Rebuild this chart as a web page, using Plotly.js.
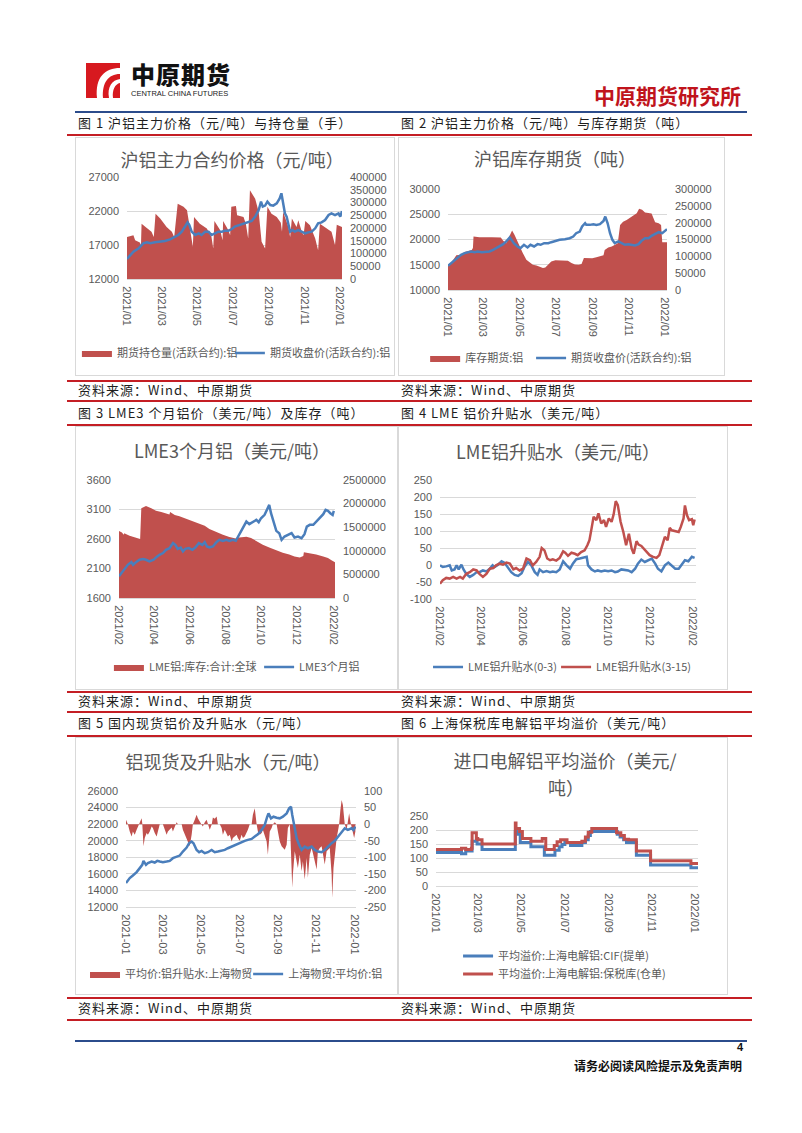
<!DOCTYPE html>
<html><head><meta charset="utf-8">
<script src="https://cdn.plot.ly/plotly-3.0.1.min.js"></script>
<style>
body{margin:0;background:#fff;}
#page{position:relative;width:802px;height:1133px;overflow:hidden;background:#fff;font-family:"Noto Sans CJK SC",sans-serif;}
.red{position:absolute;left:67px;width:685px;height:2px;background:#C41E24;}
.blue{position:absolute;left:75px;width:672px;height:2px;background:#2B4C8C;}
.cap{position:absolute;font-size:13px;letter-spacing:1px;color:#1e1e1e;line-height:13px;white-space:nowrap;}
.box{position:absolute;border:1px solid #D9D9D9;box-sizing:border-box;}
.chart{position:absolute;}
</style></head>
<body><div id="page">
<svg style="position:absolute;left:86px;top:63px" width="34" height="35" viewBox="0 0 34 35">
<rect width="34" height="35" fill="#D7191F"/>
<path d="M34 5 C19 5 9 14 11 35 L17 35 C16 20 22 11 34 11 Z" fill="#fff"/>
<path d="M34 16 C26 17 21 24 23 35 L27 35 C26 27 29 21 34 20 Z" fill="#fff"/>
<path d="M2 4 L8 4 L8 30 L2 30 Z" fill="#D7191F"/>
</svg>
<div style="position:absolute;left:131px;top:63px;font-size:24px;font-weight:900;letter-spacing:1px;line-height:22px;height:22px;color:#111;">中原期货</div>
<div style="position:absolute;left:131px;top:90px;font-family:'Liberation Sans',Arial,sans-serif;font-size:7.5px;line-height:8px;color:#222;letter-spacing:0;">CENTRAL CHINA FUTURES</div>
<div style="position:absolute;right:61px;top:83px;font-size:21px;font-weight:700;line-height:24px;color:#C0141C;">中原期货研究所</div>
<div class="blue" style="top:111px;"></div>
<div class="cap" style="left:78px;top:116px;">图 1 沪铝主力价格（元/吨）与持仓量（手）</div>
<div class="cap" style="left:401px;top:116px;">图 2 沪铝主力价格（元/吨）与库存期货（吨）</div>
<div class="red" style="top:134px;"></div>

<div class="box" style="left:75px;top:137px;width:320px;height:239px;"></div>
<div class="box" style="left:398px;top:137px;width:327px;height:239px;"></div>
<div id="c1" class="chart" style="left:75px;top:137px;"></div>
<div id="c2" class="chart" style="left:398px;top:137px;"></div>

<div class="red" style="top:380px;"></div>
<div class="cap" style="left:78px;top:383px;">资料来源：Wind、中原期货</div>
<div class="cap" style="left:401px;top:383px;">资料来源：Wind、中原期货</div>
<div class="red" style="top:400px;"></div>
<div class="cap" style="left:78px;top:406px;">图 3 LME3 个月铝价（美元/吨）及库存（吨）</div>
<div class="cap" style="left:401px;top:406px;">图 4 LME 铝价升贴水（美元/吨）</div>
<div class="red" style="top:424px;"></div>

<div class="box" style="left:75px;top:426px;width:323px;height:264px;"></div>
<div class="box" style="left:398px;top:426px;width:330px;height:264px;"></div>
<div id="c3" class="chart" style="left:75px;top:426px;"></div>
<div id="c4" class="chart" style="left:398px;top:426px;"></div>

<div class="red" style="top:691px;"></div>
<div class="cap" style="left:78px;top:694px;">资料来源：Wind、中原期货</div>
<div class="cap" style="left:401px;top:694px;">资料来源：Wind、中原期货</div>
<div class="red" style="top:711px;"></div>
<div class="cap" style="left:78px;top:716px;">图 5 国内现货铝价及升贴水（元/吨）</div>
<div class="cap" style="left:401px;top:716px;">图 6 上海保税库电解铝平均溢价（美元/吨）</div>
<div class="red" style="top:735px;"></div>

<div class="box" style="left:75px;top:737px;width:323px;height:258px;"></div>
<div class="box" style="left:398px;top:737px;width:330px;height:258px;"></div>
<div id="c5" class="chart" style="left:75px;top:737px;"></div>
<div id="c6" class="chart" style="left:398px;top:737px;"></div>

<div class="red" style="top:997px;"></div>
<div class="cap" style="left:78px;top:1001px;">资料来源：Wind、中原期货</div>
<div class="cap" style="left:401px;top:1001px;">资料来源：Wind、中原期货</div>
<div class="red" style="top:1019px;"></div>
<div class="blue" style="top:1040px;"></div>
<div style="position:absolute;right:59px;top:1041px;font-family:'Liberation Sans',Arial,sans-serif;font-size:11px;font-weight:700;line-height:13px;color:#111;">4</div>
<div style="position:absolute;right:60px;top:1059px;font-size:12px;font-weight:700;line-height:14px;color:#111;">请务必阅读风险提示及免责声明</div>
</div>
<script>
// ---------- Chart 1: 沪铝主力合约价格 ----------
const c1OiDates = ['2021-01-01','2021-01-12','2021-01-15','2021-01-23','2021-01-25','2021-01-26','2021-02-04','2021-02-12','2021-02-16','2021-02-19','2021-02-27','2021-03-10','2021-03-19','2021-03-23','2021-03-29','2021-04-08','2021-04-14','2021-04-18','2021-04-24','2021-04-26','2021-05-06','2021-05-18','2021-05-26','2021-05-29','2021-05-31','2021-06-10','2021-06-14','2021-06-15','2021-06-24','2021-06-27','2021-06-29','2021-07-07','2021-07-09','2021-07-20','2021-07-24','2021-07-28','2021-07-31','2021-08-09','2021-08-15','2021-08-20','2021-08-26','2021-08-30','2021-09-06','2021-09-15','2021-09-22','2021-09-24','2021-09-26','2021-10-01','2021-10-05','2021-10-08','2021-10-11','2021-10-19','2021-10-22','2021-10-28','2021-10-31','2021-11-03','2021-11-11','2021-11-20','2021-11-25','2021-11-28','2021-12-10','2021-12-18','2021-12-24','2021-12-27','2022-01-05'];
const c1Oi = [165000,172000,152000,143000,133000,217000,200000,185000,165000,256000,237000,204000,185000,165000,295000,283000,270000,211000,126000,243000,217000,198000,165000,120000,227000,191000,152000,227000,191000,172000,283000,286000,250000,243000,217000,159000,348000,315000,263000,146000,120000,283000,256000,243000,221000,185000,263000,230000,204000,165000,237000,204000,230000,185000,172000,227000,211000,159000,113000,217000,198000,185000,133000,213000,204000];
const c1PxDates = ['2021-01-01','2021-01-05','2021-01-12','2021-01-21','2021-01-29','2021-02-04','2021-02-10','2021-02-18','2021-02-27','2021-03-07','2021-03-16','2021-03-25','2021-03-30','2021-04-05','2021-04-11','2021-04-15','2021-04-18','2021-04-22','2021-04-28','2021-05-04','2021-05-09','2021-05-15','2021-05-21','2021-05-26','2021-06-01','2021-06-07','2021-06-13','2021-06-18','2021-06-24','2021-06-30','2021-07-05','2021-07-14','2021-07-23','2021-07-28','2021-08-03','2021-08-09','2021-08-15','2021-08-19','2021-08-22','2021-08-26','2021-08-30','2021-09-04','2021-09-09','2021-09-15','2021-09-20','2021-09-23','2021-09-25','2021-09-29','2021-10-02','2021-10-05','2021-10-08','2021-10-12','2021-10-16','2021-10-22','2021-10-28','2021-11-03','2021-11-08','2021-11-14','2021-11-20','2021-11-25','2021-12-01','2021-12-07','2021-12-13','2021-12-18','2021-12-24','2021-12-30','2022-01-02','2022-01-05'];
const c1Px = [14940,15280,16020,16510,17250,17390,17250,17390,17490,17590,17830,18230,18470,18960,19840,20330,19940,18960,18470,18720,18470,18960,18960,18470,18720,18960,18960,19110,19110,19350,19700,19940,20190,20330,20530,21170,22150,23370,22640,22790,23370,22880,22790,23130,23860,24600,23370,21660,21170,20190,18960,19200,18960,19200,18960,18720,18860,18960,19450,20190,20330,20680,21410,21660,21410,21660,21170,22000];
const c1XTicks = ['2021-01-01','2021-03-01','2021-05-01','2021-07-01','2021-09-01','2021-11-01','2022-01-01'];
const c1XLabels = ['2021/01','2021/03','2021/05','2021/07','2021/09','2021/11','2022/01'];
const c1LeftTicks = [12000,17000,22000,27000];
const c1RightTicks = [0,50000,100000,150000,200000,250000,300000,350000,400000];

// ---------- Chart 2: 沪铝库存期货 ----------
const c2InvDates = ['2021-01-01','2021-01-06','2021-01-12','2021-01-15','2021-01-23','2021-01-29','2021-02-04','2021-02-10','2021-02-12','2021-02-13','2021-02-23','2021-03-06','2021-03-16','2021-03-31','2021-04-04','2021-04-09','2021-04-15','2021-04-19','2021-04-23','2021-04-28','2021-05-02','2021-05-07','2021-05-13','2021-05-19','2021-05-24','2021-05-30','2021-06-04','2021-06-10','2021-06-14','2021-06-19','2021-06-24','2021-07-01','2021-07-08','2021-07-17','2021-07-22','2021-07-28','2021-08-03','2021-08-09','2021-08-14','2021-08-18','2021-08-25','2021-09-01','2021-09-08','2021-09-14','2021-09-20','2021-09-22','2021-09-28','2021-10-04','2021-10-09','2021-10-14','2021-10-18','2021-10-23','2021-10-29','2021-11-04','2021-11-09','2021-11-15','2021-11-19','2021-11-24','2021-11-29','2021-12-05','2021-12-10','2021-12-16','2021-12-22','2021-12-26','2021-12-28','2022-01-05'];
const c2Inv = [75000,80000,95000,103000,105000,113000,116000,119000,125000,159000,157000,156000,157000,156000,146000,139000,164000,177000,164000,144000,129000,110000,90000,82000,75000,73000,70000,65000,67000,75000,85000,88000,88000,89000,87000,80000,76000,75000,77000,95000,95000,94000,97000,100000,103000,119000,126000,129000,134000,139000,193000,203000,208000,215000,223000,228000,241000,238000,230000,228000,227000,201000,198000,193000,142000,142000];
const c2PxDates = ['2021-01-01','2021-01-06','2021-01-12','2021-01-18','2021-01-23','2021-01-29','2021-02-04','2021-02-09','2021-02-15','2021-02-20','2021-02-27','2021-03-06','2021-03-12','2021-03-18','2021-03-23','2021-03-29','2021-04-04','2021-04-09','2021-04-15','2021-04-18','2021-04-22','2021-04-28','2021-05-03','2021-05-09','2021-05-15','2021-05-20','2021-05-26','2021-06-01','2021-06-06','2021-06-12','2021-06-19','2021-06-24','2021-07-01','2021-07-08','2021-07-17','2021-07-25','2021-07-31','2021-08-05','2021-08-11','2021-08-15','2021-08-20','2021-08-22','2021-08-28','2021-09-03','2021-09-08','2021-09-14','2021-09-20','2021-09-23','2021-09-27','2021-10-01','2021-10-05','2021-10-09','2021-10-15','2021-10-21','2021-10-26','2021-11-01','2021-11-06','2021-11-12','2021-11-18','2021-11-23','2021-11-29','2021-12-05','2021-12-10','2021-12-16','2021-12-22','2021-12-28','2022-01-01','2022-01-05'];
const c2Px = [14800,15330,15990,16640,16970,17300,17500,17630,17500,17630,17500,17630,17630,17960,18290,18620,19080,19610,20400,19930,19280,18620,18290,18950,18420,18950,18620,19080,18950,19280,19280,19470,19740,19930,20070,20260,20590,21250,21580,22570,23220,22900,22900,23030,22900,23030,23680,24540,23220,21250,19930,19280,19610,19280,18950,19080,18950,18820,19080,19740,20260,20260,20720,21050,21450,21250,21580,22040];
const c2LeftTicks = [10000,15000,20000,25000,30000];
const c2RightTicks = [0,50000,100000,150000,200000,250000,300000];

// ---------- Chart 3: LME3个月铝 ----------
const c3InvDates = ['2021-02-01','2021-02-06','2021-02-09','2021-02-10','2021-02-19','2021-03-02','2021-03-09','2021-03-11','2021-03-19','2021-03-28','2021-04-05','2021-04-14','2021-04-22','2021-04-28','2021-04-29','2021-05-07','2021-05-15','2021-05-24','2021-06-01','2021-06-10','2021-06-18','2021-06-27','2021-07-05','2021-07-17','2021-07-28','2021-08-08','2021-08-19','2021-08-25','2021-09-06','2021-09-14','2021-09-23','2021-10-04','2021-10-15','2021-10-27','2021-11-07','2021-11-18','2021-11-27','2021-12-06','2021-12-12','2021-12-13','2021-12-23','2022-01-03','2022-01-15','2022-01-23','2022-01-29','2022-02-04'];
const c3Inv = [1420000,1390000,1340000,1370000,1320000,1280000,1250000,1900000,1950000,1900000,1850000,1820000,1790000,1770000,1820000,1760000,1730000,1690000,1650000,1610000,1570000,1530000,1460000,1390000,1340000,1290000,1260000,1280000,1300000,1270000,1200000,1130000,1070000,1010000,960000,920000,880000,860000,890000,970000,950000,920000,880000,850000,800000,760000];
const c3PxDates = ['2021-02-01','2021-02-05','2021-02-10','2021-02-16','2021-02-22','2021-02-25','2021-03-02','2021-03-08','2021-03-14','2021-03-19','2021-03-25','2021-04-01','2021-04-05','2021-04-11','2021-04-17','2021-04-22','2021-04-28','2021-05-04','2021-05-08','2021-05-12','2021-05-17','2021-05-21','2021-05-25','2021-05-31','2021-06-06','2021-06-11','2021-06-17','2021-06-23','2021-06-27','2021-07-01','2021-07-05','2021-07-11','2021-07-17','2021-07-22','2021-07-28','2021-08-03','2021-08-08','2021-08-14','2021-08-19','2021-08-25','2021-08-31','2021-09-06','2021-09-11','2021-09-17','2021-09-23','2021-09-27','2021-10-01','2021-10-07','2021-10-13','2021-10-15','2021-10-18','2021-10-22','2021-10-27','2021-11-01','2021-11-05','2021-11-10','2021-11-16','2021-11-22','2021-11-27','2021-12-03','2021-12-09','2021-12-14','2021-12-18','2021-12-23','2021-12-29','2022-01-03','2022-01-09','2022-01-15','2022-01-19','2022-01-23','2022-01-27','2022-01-31','2022-02-02'];
const c3Px = [1970,2023,2096,2163,2208,2163,2208,2248,2259,2248,2220,2248,2287,2332,2361,2417,2445,2530,2501,2434,2456,2389,2434,2445,2417,2456,2530,2501,2546,2473,2456,2473,2546,2586,2569,2586,2569,2586,2569,2670,2783,2896,2851,2885,2924,2885,2952,3009,3149,3178,3037,2885,2738,2699,2586,2642,2670,2699,2625,2642,2614,2682,2811,2840,2840,2896,2952,3020,3093,3076,3037,3009,3076];
const c3XTicks = ['2021-02-01','2021-04-01','2021-06-01','2021-08-01','2021-10-01','2021-12-01','2022-02-01'];
const c3XLabels = ['2021/02','2021/04','2021/06','2021/08','2021/10','2021/12','2022/02'];
const c3LeftTicks = [1600,2100,2600,3100,3600];
const c3RightTicks = [0,500000,1000000,1500000,2000000,2500000];

// ---------- Chart 4: LME铝升贴水 ----------
const c4D03Dates = ['2021-02-01','2021-02-05','2021-02-10','2021-02-15','2021-02-18','2021-02-22','2021-02-25','2021-02-28','2021-03-04','2021-03-07','2021-03-11','2021-03-16','2021-03-21','2021-03-26','2021-03-30','2021-04-04','2021-04-09','2021-04-14','2021-04-18','2021-04-21','2021-04-26','2021-05-01','2021-05-05','2021-05-10','2021-05-15','2021-05-20','2021-05-25','2021-05-30','2021-06-03','2021-06-08','2021-06-13','2021-06-18','2021-06-22','2021-06-25','2021-06-30','2021-07-05','2021-07-10','2021-07-14','2021-07-19','2021-07-24','2021-07-29','2021-08-03','2021-08-08','2021-08-12','2021-08-17','2021-08-22','2021-08-27','2021-09-01','2021-09-03','2021-09-08','2021-09-13','2021-09-17','2021-09-22','2021-09-27','2021-10-02','2021-10-07','2021-10-12','2021-10-16','2021-10-21','2021-10-26','2021-10-31','2021-11-05','2021-11-10','2021-11-14','2021-11-19','2021-11-24','2021-11-29','2021-12-04','2021-12-09','2021-12-13','2021-12-18','2021-12-23','2021-12-28','2022-01-02','2022-01-07','2022-01-12','2022-01-16','2022-01-21','2022-01-26','2022-01-31','2022-02-04'];
const c4D03 = [-1,-6,-4,-1,-16,-13,-1,-13,1,-13,-26,-35,-29,-21,-21,-16,-19,-11,-1,-6,1,11,7,-6,-21,-29,-32,-24,-6,9,-1,-21,-29,-13,-21,-18,-21,-19,-21,-13,11,-1,-11,4,17,19,21,24,-1,-13,-19,-16,-19,-16,-18,-16,-21,-19,-13,-14,-16,-21,-11,4,16,9,14,19,4,-11,-19,-1,7,-1,-11,-11,1,14,11,24,21];
const c4D315Dates = ['2021-02-01','2021-02-05','2021-02-10','2021-02-15','2021-02-20','2021-02-25','2021-03-02','2021-03-06','2021-03-11','2021-03-16','2021-03-21','2021-03-26','2021-03-30','2021-04-04','2021-04-09','2021-04-14','2021-04-19','2021-04-23','2021-04-28','2021-05-03','2021-05-08','2021-05-13','2021-05-18','2021-05-22','2021-05-27','2021-06-01','2021-06-06','2021-06-11','2021-06-15','2021-06-20','2021-06-25','2021-06-28','2021-07-02','2021-07-06','2021-07-10','2021-07-14','2021-07-19','2021-07-24','2021-07-29','2021-08-01','2021-08-05','2021-08-10','2021-08-15','2021-08-19','2021-08-24','2021-08-29','2021-09-02','2021-09-05','2021-09-08','2021-09-11','2021-09-15','2021-09-18','2021-09-22','2021-09-26','2021-09-29','2021-10-03','2021-10-07','2021-10-10','2021-10-13','2021-10-16','2021-10-20','2021-10-24','2021-10-28','2021-11-01','2021-11-05','2021-11-08','2021-11-12','2021-11-15','2021-11-19','2021-11-23','2021-11-26','2021-12-01','2021-12-06','2021-12-11','2021-12-15','2021-12-19','2021-12-23','2021-12-27','2021-12-30','2022-01-02','2022-01-07','2022-01-12','2022-01-15','2022-01-19','2022-01-21','2022-01-24','2022-01-27','2022-01-31','2022-02-02','2022-02-04'];
const c4D315 = [-55,-45,-38,-40,-35,-40,-35,-40,-26,-21,-13,-16,-26,-35,-26,-11,-9,-1,4,1,7,4,-13,-9,-16,-11,19,14,-1,9,24,50,43,19,14,17,13,21,40,36,27,36,33,29,38,43,58,73,107,142,132,152,122,132,112,137,127,149,188,176,127,97,58,92,48,33,70,60,56,48,40,29,24,21,29,58,83,73,109,102,99,97,112,137,175,146,132,135,117,134];
const c4YTicks = [-100,-50,0,50,100,150,200,250];

// ---------- Chart 5: 铝现货及升贴水 ----------
const c5PremDates = ['2021-01-01','2021-01-03','2021-01-04','2021-01-07','2021-01-10','2021-01-12','2021-01-15','2021-01-18','2021-01-20','2021-01-23','2021-01-26','2021-01-27','2021-01-29','2021-01-31','2021-02-03','2021-02-05','2021-02-08','2021-02-11','2021-02-13','2021-02-16','2021-02-19','2021-02-21','2021-02-24','2021-03-01','2021-03-04','2021-03-07','2021-03-09','2021-03-12','2021-03-15','2021-03-17','2021-03-20','2021-03-23','2021-03-25','2021-03-31','2021-04-02','2021-04-05','2021-04-08','2021-04-10','2021-04-13','2021-04-16','2021-04-18','2021-04-21','2021-04-24','2021-04-26','2021-04-29','2021-05-02','2021-05-04','2021-05-07','2021-05-10','2021-05-12','2021-05-15','2021-05-18','2021-05-20','2021-05-23','2021-05-26','2021-05-28','2021-05-31','2021-06-03','2021-06-05','2021-06-08','2021-06-11','2021-06-13','2021-06-16','2021-06-19','2021-06-21','2021-06-24','2021-06-27','2021-06-29','2021-07-02','2021-07-05','2021-07-07','2021-07-10','2021-07-13','2021-07-15','2021-07-18','2021-07-21','2021-07-23','2021-07-26','2021-07-29','2021-07-31','2021-08-03','2021-08-06','2021-08-08','2021-08-11','2021-08-14','2021-08-16','2021-08-19','2021-08-22','2021-08-24','2021-08-27','2021-08-30','2021-09-01','2021-09-04','2021-09-07','2021-09-09','2021-09-12','2021-09-15','2021-09-17','2021-09-20','2021-09-21','2021-09-24','2021-09-25','2021-09-28','2021-10-01','2021-10-03','2021-10-06','2021-10-09','2021-10-11','2021-10-14','2021-10-17','2021-10-19','2021-10-22','2021-10-25','2021-10-27','2021-10-30','2021-11-02','2021-11-04','2021-11-07','2021-11-10','2021-11-12','2021-11-15','2021-11-18','2021-11-20','2021-11-23','2021-11-26','2021-11-27','2021-11-29','2021-12-02','2021-12-04','2021-12-06','2021-12-08','2021-12-10','2021-12-12','2021-12-14','2021-12-17','2021-12-20','2021-12-22','2021-12-24','2021-12-26','2021-12-29','2022-01-01','2022-01-03'];
const c5Prem = [13,6,0,-22,-37,-22,-32,-17,-7,8,18,3,-67,-42,-27,-32,-22,-7,-12,-27,-37,-22,0,0,-17,-32,-22,-17,-10,-22,-7,6,0,0,-17,-32,-42,-57,-67,-32,0,13,28,18,6,-2,-7,6,13,3,-17,-2,20,16,23,0,0,-12,-32,-17,-27,-37,-32,-52,-42,-37,-32,-42,-50,-32,-42,-37,-27,-17,0,0,28,48,0,-22,-32,-27,-17,-32,-52,-92,-22,-12,0,6,0,-22,-52,-67,-72,-77,-62,-12,0,-32,-192,-152,-82,-112,-132,-92,-142,-112,-167,-102,-162,-92,-72,-87,-112,-137,-82,-72,-67,-92,-122,-82,-77,-72,-152,-222,-132,-72,-42,-22,0,43,73,58,0,-17,8,33,8,-17,-42,-22];
const c5PxDates = ['2021-01-01','2021-01-03','2021-01-07','2021-01-12','2021-01-18','2021-01-23','2021-01-27','2021-01-29','2021-02-02','2021-02-05','2021-02-11','2021-02-16','2021-02-20','2021-02-24','2021-03-01','2021-03-07','2021-03-12','2021-03-17','2021-03-23','2021-03-28','2021-04-02','2021-04-08','2021-04-12','2021-04-16','2021-04-19','2021-04-24','2021-04-28','2021-05-02','2021-05-07','2021-05-12','2021-05-18','2021-05-23','2021-05-28','2021-06-03','2021-06-08','2021-06-13','2021-06-19','2021-06-24','2021-06-29','2021-07-05','2021-07-10','2021-07-15','2021-07-21','2021-07-26','2021-07-31','2021-08-06','2021-08-11','2021-08-15','2021-08-17','2021-08-21','2021-08-25','2021-08-30','2021-09-04','2021-09-09','2021-09-15','2021-09-19','2021-09-22','2021-09-24','2021-09-27','2021-10-01','2021-10-05','2021-10-09','2021-10-14','2021-10-19','2021-10-25','2021-10-30','2021-11-04','2021-11-10','2021-11-15','2021-11-20','2021-11-26','2021-12-01','2021-12-06','2021-12-12','2021-12-17','2021-12-22','2021-12-28','2021-12-31','2022-01-03'];
const c5Px = [14890,15090,15490,15810,16210,16690,17090,17570,17090,17290,17490,17370,17570,17490,17410,17490,17570,17890,18090,18210,18690,19170,19700,19900,19700,18890,18610,18770,18490,18610,18890,18610,18690,18770,18890,19090,19290,19500,19700,19820,19980,20100,20220,20500,20780,21300,21900,22900,23300,22700,22900,22780,22700,22900,23300,23900,24100,23100,21700,20300,19500,18890,19290,19090,19290,18890,18690,18610,18890,19290,19700,19980,20500,21100,21500,21300,21500,21300,21700];
const c5XTicks = ['2021-01-01','2021-03-01','2021-05-01','2021-07-01','2021-09-01','2021-11-01','2022-01-01'];
const c5XLabels = ['2021-01','2021-03','2021-05','2021-07','2021-09','2021-11','2022-01'];
const c5LeftTicks = [12000,14000,16000,18000,20000,22000,24000,26000];
const c5RightTicks = [-250,-200,-150,-100,-50,0,50,100];

// ---------- Chart 6: 进口电解铝平均溢价 ----------
const c6CifDates = ['2021-01-01','2021-02-06','2021-02-12','2021-02-21','2021-02-28','2021-03-07','2021-04-23','2021-04-25','2021-04-30','2021-05-15','2021-06-03','2021-06-18','2021-06-24','2021-06-28','2021-07-02','2021-07-10','2021-07-26','2021-07-31','2021-08-04','2021-08-07','2021-09-14','2021-09-18','2021-09-23','2021-09-27','2021-10-11','2021-10-31','2021-12-27','2022-01-06'];
const c6Cif = [120,115,125,160,150,130,195,185,155,140,110,128,140,148,155,145,155,165,180,195,185,175,165,155,110,75,65,65];
const c6BondDates = ['2021-01-01','2021-02-06','2021-02-12','2021-02-20','2021-02-21','2021-02-27','2021-03-01','2021-03-07','2021-04-23','2021-04-24','2021-04-29','2021-05-03','2021-05-15','2021-05-31','2021-06-05','2021-06-17','2021-06-21','2021-06-26','2021-07-05','2021-07-26','2021-07-31','2021-08-04','2021-08-09','2021-09-13','2021-09-19','2021-09-24','2021-09-30','2021-10-11','2021-10-31','2021-12-27','2022-01-06'];
const c6Bond = [130,135,130,135,190,170,165,150,225,205,195,170,160,170,130,145,158,165,155,160,175,192,205,190,180,167,165,125,90,80,80];
const c6XTicks = c1XTicks;
const c6XLabels = c1XLabels;
const c6YTicks = [0,50,100,150,200,250];
const c6TitleLines = ['进口电解铝平均溢价（美元/', '吨）'];

// ---------- styling helpers ----------
const RED = '#C0504D', BLUE = '#4A7EBB', GRID = '#D9D9D9';
const NUMF = '"Liberation Sans", Arial, sans-serif';
const CJK = '"Noto Sans CJK SC", "Noto Sans", sans-serif';
const tf = () => ({family: NUMF, size: 11, color: '#595959'});
const titleFont = () => ({family: CJK, size: 18, color: '#595959'});

function dateAxis(range, vals, text) {
  return {type: 'date', range: range, tickvals: vals, ticktext: text, tickangle: 90,
    showgrid: false, zeroline: false, showline: true, linecolor: GRID, linewidth: 1,
    ticks: '', tickfont: tf(), ticklabelstandoff: 4, fixedrange: true, automargin: false};
}
function valAxis(range, ticks, extra) {
  return Object.assign({range: range, tickvals: ticks, ticktext: ticks.map(String),
    showgrid: false, zeroline: false, showline: false, ticks: '', tickfont: tf(),
    ticklabelstandoff: 7, fixedrange: true, automargin: false}, extra || {});
}
function leg(x, y) {
  return {font: {family: CJK, size: 11, color: '#595959'}, bgcolor: 'rgba(0,0,0,0)',
    orientation: 'h', xref: 'container', yref: 'container', xanchor: 'left', yanchor: 'middle',
    x: x, y: y, itemwidth: 30};
}
function layout(W, H, m, title, tx, ty, l1, l2) {
  return {width: W, height: H, margin: Object.assign({pad: 0, autoexpand: false}, m),
    paper_bgcolor: 'rgba(0,0,0,0)', plot_bgcolor: 'rgba(0,0,0,0)',
    title: {text: title, font: titleFont(),
      x: tx, xref: 'container', xanchor: 'center', y: ty, yref: 'container', yanchor: 'middle'},
    showlegend: true, legend: l1, legend2: l2};
}
function area(x, y, name, yax, lg) {
  return {x: x, y: y, type: 'scatter', mode: 'lines', fill: 'tozeroy', fillcolor: RED,
    line: {width: 0, color: RED}, name: name, yaxis: yax, legend: lg, hoverinfo: 'skip'};
}
function line(x, y, name, color, w, yax, lg, shape) {
  return {x: x, y: y, type: 'scatter', mode: 'lines', line: {width: w, color: color, shape: shape || 'linear'},
    name: name, yaxis: yax, legend: lg, hoverinfo: 'skip'};
}
const cfg = {staticPlot: true, displayModeBar: false};

// Chart 1
{
  const L = layout(320, 239, {l: 52, r: 53, t: 40, b: 97}, '沪铝主力合约价格（元/吨）', 0.491, 0.900, leg(0.006, 0.096), leg(0.484, 0.096));
  L.xaxis = dateAxis(['2021-01-01', '2022-01-05'], c1XTicks, c1XLabels);
  L.yaxis = valAxis([0, 400000], c1RightTicks, {side: 'right'});
  L.yaxis2 = valAxis([12000, 27000], c1LeftTicks, {side: 'left', overlaying: 'y', showgrid: true, gridcolor: GRID, gridwidth: 1});
  Plotly.newPlot('c1', [area(c1OiDates, c1Oi, '期货持仓量(活跃合约):铝', 'y', 'legend'),
    line(c1PxDates, c1Px, '期货收盘价(活跃合约):铝', BLUE, 2.5, 'y2', 'legend2')], L, cfg);
}
// Chart 2
{
  const L = layout(327, 239, {l: 50, r: 58, t: 52, b: 86}, '沪铝库存期货（吨）', 0.480, 0.904, leg(0.083, 0.075), leg(0.407, 0.075));
  L.xaxis = dateAxis(['2021-01-01', '2022-01-05'], c1XTicks, c1XLabels);
  L.yaxis = valAxis([0, 300000], c2RightTicks, {side: 'right'});
  L.yaxis2 = valAxis([10000, 30000], c2LeftTicks, {side: 'left', overlaying: 'y', showgrid: true, gridcolor: GRID, gridwidth: 1});
  Plotly.newPlot('c2', [area(c2InvDates, c2Inv, '库存期货:铝', 'y', 'legend'),
    line(c2PxDates, c2Px, '期货收盘价(活跃合约):铝', BLUE, 2.5, 'y2', 'legend2')], L, cfg);
}
// Chart 3
{
  const L = layout(323, 264, {l: 44, r: 63, t: 54, b: 92}, 'LME3个月铝（美元/吨）', 0.486, 0.902, leg(0.105, 0.087), leg(0.570, 0.087));
  L.xaxis = dateAxis(['2021-02-01', '2022-02-04'], c3XTicks, c3XLabels);
  L.yaxis = valAxis([0, 2500000], c3RightTicks, {side: 'right'});
  L.yaxis2 = valAxis([1600, 3600], c3LeftTicks, {side: 'left', overlaying: 'y', showgrid: true, gridcolor: GRID, gridwidth: 1});
  Plotly.newPlot('c3', [area(c3InvDates, c3Inv, 'LME铝:库存:合计:全球', 'y', 'legend'),
    line(c3PxDates, c3Px, 'LME3个月铝', BLUE, 2.5, 'y2', 'legend2')], L, cfg);
}
// Chart 4
{
  const L = layout(330, 264, {l: 42, r: 32, t: 54, b: 91}, 'LME铝升贴水（美元/吨）', 0.485, 0.898, leg(0.091, 0.087), leg(0.479, 0.087));
  L.xaxis = dateAxis(['2021-02-01', '2022-02-06'], c3XTicks, c3XLabels);
  L.yaxis = valAxis([-100, 250], c4YTicks, {side: 'left', showgrid: true, gridcolor: GRID, gridwidth: 1});
  Plotly.newPlot('c4', [line(c4D03Dates, c4D03, 'LME铝升贴水(0-3)', BLUE, 2.5, 'y', 'legend'),
    line(c4D315Dates, c4D315, 'LME铝升贴水(3-15)', RED, 2.5, 'y', 'legend2')], L, cfg);
}
// Chart 5
{
  const L = layout(323, 258, {l: 51, r: 42, t: 54, b: 88}, '铝现货及升贴水（元/吨）', 0.474, 0.899, leg(0.031, 0.081), leg(0.536, 0.081));
  L.xaxis = dateAxis(['2021-01-01', '2022-01-04'], c5XTicks, c5XLabels);
  L.yaxis = valAxis([-250, 100], c5RightTicks, {side: 'right'});
  L.yaxis2 = valAxis([12000, 26000], c5LeftTicks, {side: 'left', overlaying: 'y', showgrid: true, gridcolor: GRID, gridwidth: 1});
  Plotly.newPlot('c5', [area(c5PremDates, c5Prem, '平均价:铝升贴水:上海物贸', 'y', 'legend'),
    line(c5PxDates, c5Px, '上海物贸:平均价:铝', BLUE, 2.5, 'y2', 'legend2')], L, cfg);
}
// Chart 6 (title wraps onto two lines, as in the reference)
{
  const L = layout(330, 258, {l: 38, r: 30, t: 79, b: 109}, c6TitleLines[0], 0.506, 0.903, leg(0.182, 0.151), leg(0.182, 0.081));
  L.annotations = [{text: c6TitleLines[1], font: titleFont(), showarrow: false,
    xref: 'paper', yref: 'paper', x: 0.496, y: 1.41, xanchor: 'center', yanchor: 'middle'}];
  L.xaxis = dateAxis(['2021-01-01', '2022-01-06'], c6XTicks, c6XLabels);
  L.yaxis = valAxis([0, 250], c6YTicks, {side: 'left', showgrid: true, gridcolor: GRID, gridwidth: 1});
  Plotly.newPlot('c6', [line(c6CifDates, c6Cif, '平均溢价:上海电解铝:CIF(提单)', BLUE, 3, 'y', 'legend', 'hv'),
    line(c6BondDates, c6Bond, '平均溢价:上海电解铝:保税库(仓单)', RED, 3, 'y', 'legend2', 'hv')], L, cfg);
}
</script>
</body></html>
